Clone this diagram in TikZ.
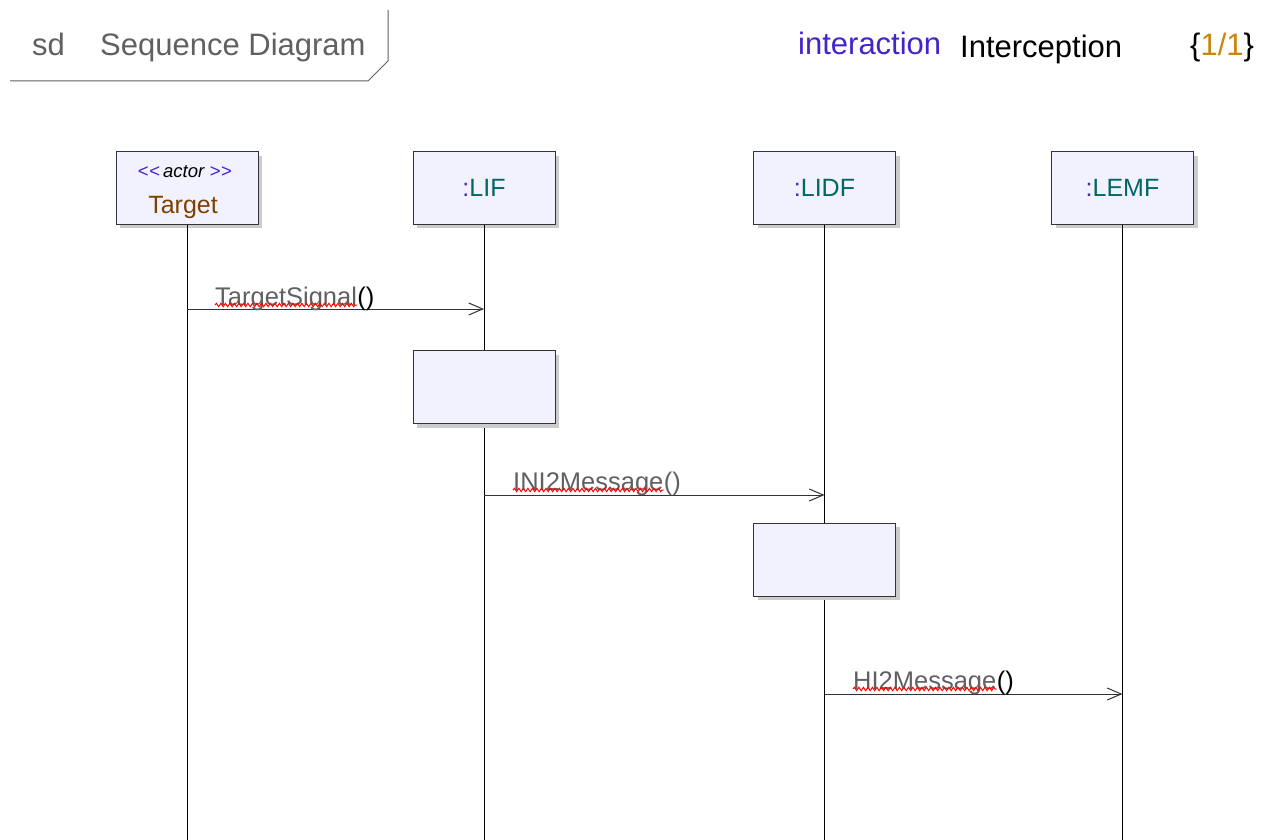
\documentclass[tikz,border=0pt]{standalone}
\usepackage{fontspec}
\setmainfont{Liberation Sans}
\usetikzlibrary{arrows.meta,shadows,decorations.pathmorphing}
\definecolor{boxfill}{HTML}{F2F2FF}
\definecolor{umlpurple}{HTML}{4422CC}
\definecolor{umlteal}{HTML}{006666}
\definecolor{umlbrown}{HTML}{7F4000}
\definecolor{umlgold}{HTML}{C8860A}
\definecolor{umlgray}{HTML}{606060}

\begin{document}
\begin{tikzpicture}[x=1pt, y=-1pt, >={Straight Barb[length=14pt,width=12pt]},
    head/.style={draw=black!80, fill=boxfill, line width=1pt, minimum width=142pt, minimum height=72pt, inner sep=0pt,
      drop shadow={shadow xshift=4pt, shadow yshift=-4pt, fill=black!20, opacity=1}, font=\fontsize{25}{29}\selectfont},
    lifeline/.style={draw=black, line width=1pt},
    msg/.style={->, draw=black!80, line width=1pt},
    lbl/.style={anchor=base west, inner sep=0pt, font=\fontsize{25.5}{29}\selectfont},
    squiggle/.style={draw=red, line width=1pt, decorate, decoration={snake, amplitude=1.7pt, segment length=4.5pt}},
    title/.style={anchor=base west, inner sep=0pt, font=\fontsize{31}{35}\selectfont}]
  \useasboundingbox (0,0) rectangle (1261,840);

  % frame header
  \draw[draw=umlgray, line width=1pt] (10,81) -- (368,81) -- (388,61) -- (388,10);
  \node[title, text=umlgray] (sd) at (32,56) {sd};
  \node[title, text=umlgray] (frameName) at (100,56) {Sequence Diagram};
  \node[title, text=umlpurple] (kind) at (798,55) {interaction};
  \node[title] (name) at (960,58) {Interception};
  \node[title] (page) at (1190,56) {\{\textcolor{umlgold}{1/1}\}};

  % lifeline heads
  \node[head] (target) at (187,188) {};
  \node[anchor=base, inner sep=0pt, font=\fontsize{18.5}{21}\selectfont] (targetStereo) at (185,178)
    {\textcolor{umlpurple}{<\kern0.5pt<}\,\textit{actor}\kern5pt\textcolor{umlpurple}{>\kern0.5pt>}};
  \node[anchor=base, inner sep=0pt, font=\fontsize{25}{29}\selectfont, text=umlbrown] (targetName) at (183,213) {Target};
  \node[head] (lif) at (484,188) {\textcolor{umlpurple}{:}\textcolor{umlteal}{LIF}};
  \node[head] (lidf) at (824.5,188) {\textcolor{umlpurple}{:}\textcolor{umlteal}{LIDF}};
  \node[head] (lemf) at (1122.5,188) {\textcolor{umlpurple}{:}\textcolor{umlteal}{LEMF}};

  % lifelines
  \coordinate (bottom) at (0,840);
  \draw[lifeline] (target) -- (target |- bottom);
  \draw[lifeline] (lif) -- (lif |- bottom);
  \draw[lifeline] (lidf) -- (lidf |- bottom);
  \draw[lifeline] (lemf) -- (lemf |- bottom);

  % activations
  \node[head, minimum height=73pt] (lifAct) at (484,387) {};
  \node[head, minimum height=73pt] (lidfAct) at (824.5,559.5) {};

  % messages
  \coordinate (m1) at (0,309);
  \coordinate (m2) at (0,495);
  \coordinate (m3) at (0,694);
  \draw[msg] (target |- m1) -- (lif |- m1);
  \node[lbl, text=umlgray] (sig) at (215,305) {TargetSignal};
  \node[lbl] (sigArgs) at (sig.base east) {()};
  \draw[squiggle] (sig.base west) -- (sig.base east);

  \draw[msg] (lif |- m2) -- (lidf |- m2);
  \node[lbl, text=umlgray] (ini) at (513,490) {INI2Message};
  \node[lbl, text=umlgray] (iniArgs) at (ini.base east) {()};
  \draw[squiggle] (ini.base west) -- (ini.base east);

  \draw[msg] (lidf |- m3) -- (lemf |- m3);
  \node[lbl, text=umlgray] (hi) at (853,689) {HI2Message};
  \node[lbl] (hiArgs) at (hi.base east) {()};
  \draw[squiggle] (hi.base west) -- (hi.base east);
\end{tikzpicture}
\end{document}
